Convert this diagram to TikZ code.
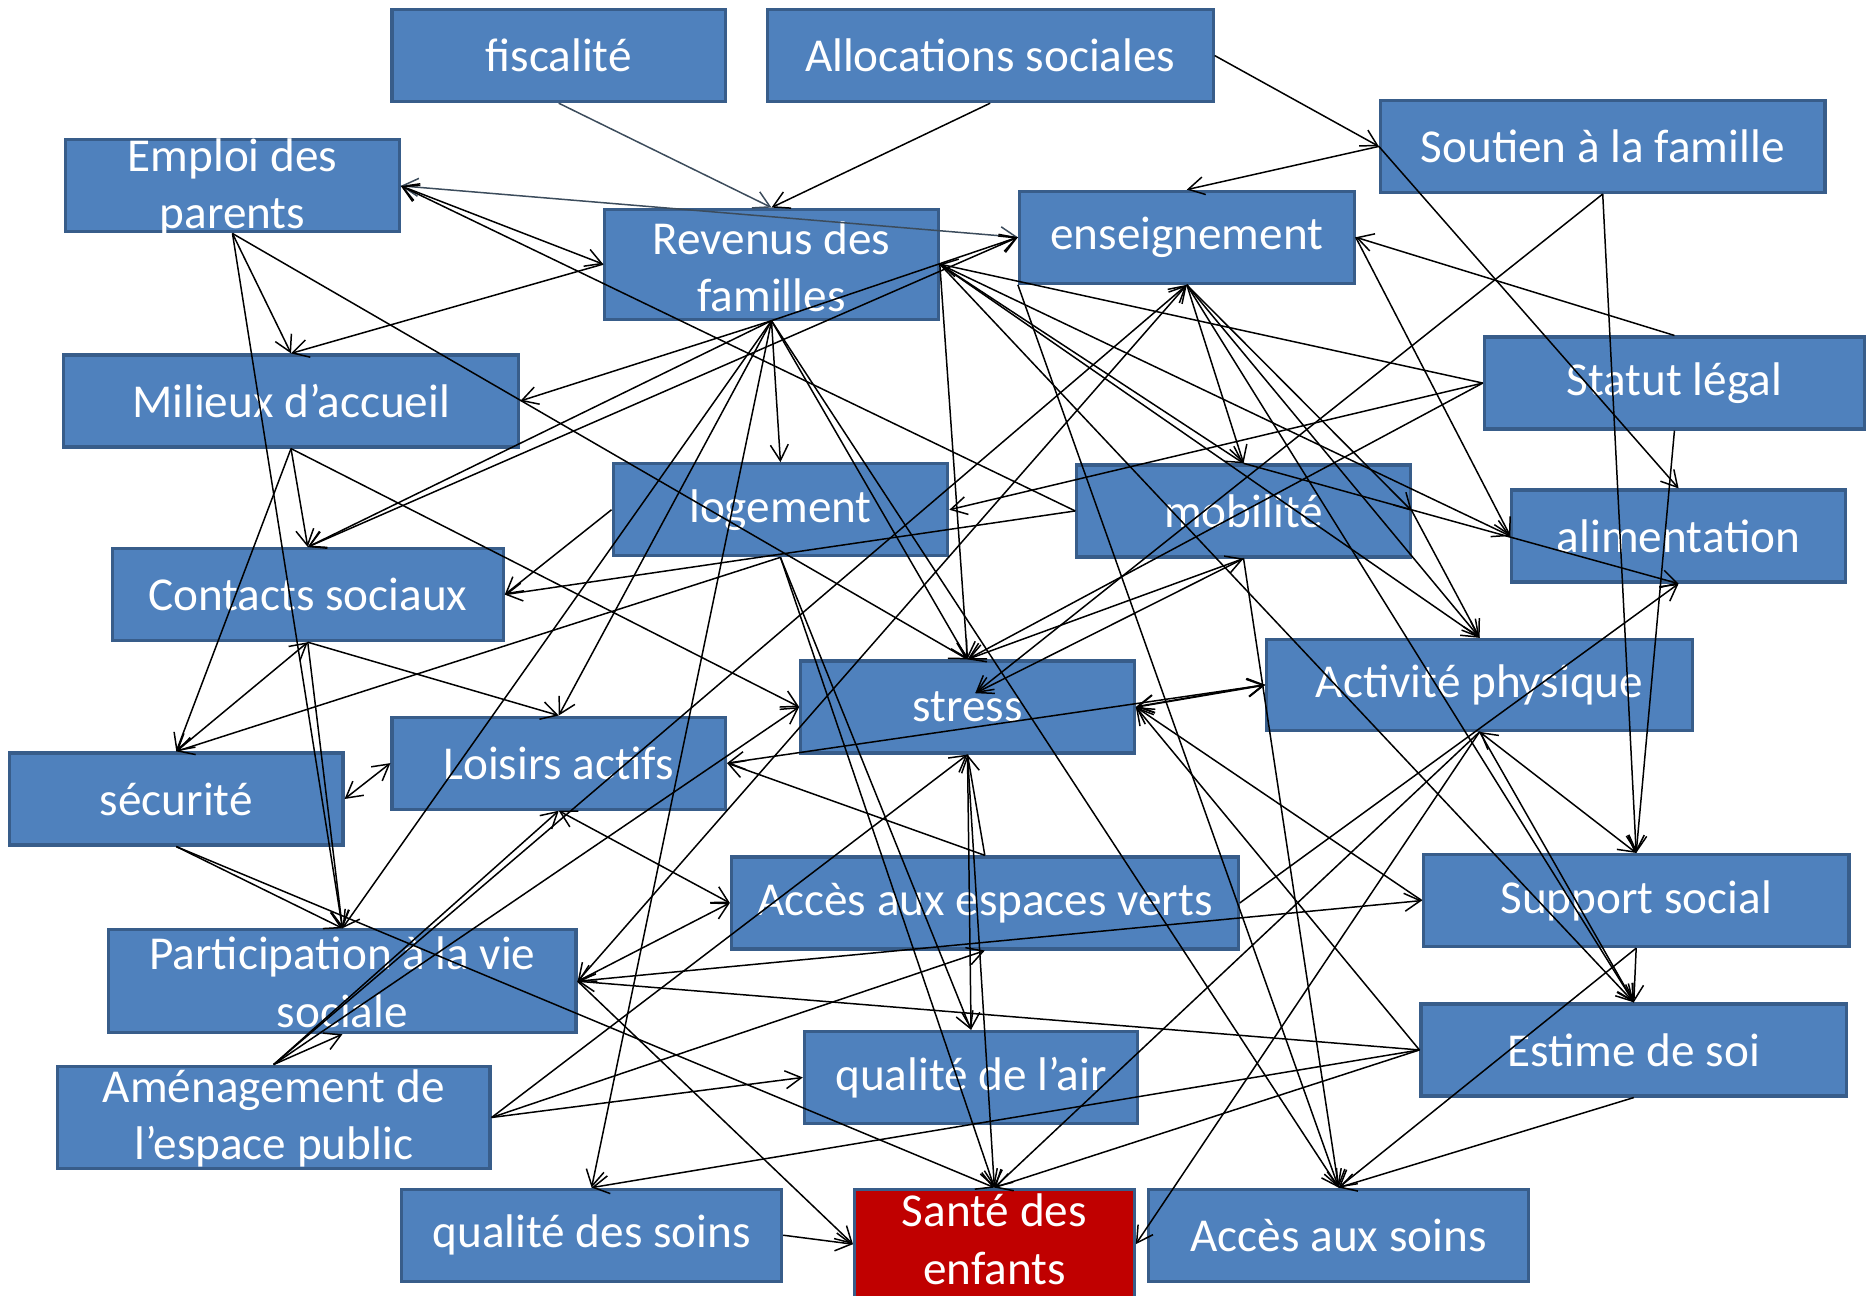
\documentclass[tikz,border=0pt]{standalone}
\usepackage{fontspec}
\setmainfont{Carlito}
\usetikzlibrary{arrows.meta}
\definecolor{bfill}{HTML}{4F81BD}
\definecolor{bbord}{HTML}{385D8A}
\definecolor{rfill}{HTML}{C00000}
\definecolor{gline}{HTML}{3C4C5C}
\tikzset{
  box/.style={draw=bbord, fill=bfill, line width=1.6pt, inner sep=0pt, rectangle},
  redbox/.style={box, fill=rfill},
  lbl/.style={text=white, align=center, inner sep=0pt, font=\fontsize{23.7pt}{28.8pt}\selectfont},
  ar/.style={-{Straight Barb[length=8pt,width=9pt]}, line width=0.75pt, black},
  dar/.style={{Straight Barb[length=8pt,width=9pt]}-{Straight Barb[length=8pt,width=9pt]}, line width=0.75pt, black},
  gar/.style={ar, draw=gline},
  gdar/.style={dar, draw=gline}
}
\begin{document}
\begin{tikzpicture}[x=0.6pt,y=-0.6pt]
\useasboundingbox (0,0) rectangle (1568,1084);
% boxes
\node[box, minimum width=279*0.6pt, minimum height=77*0.6pt] (fisc) at (467.5,46.5) {};
\node[box, minimum width=373*0.6pt, minimum height=77*0.6pt] (alloc) at (828.5,46.5) {};
\node[box, minimum width=372*0.6pt, minimum height=77*0.6pt] (soutien) at (1341,122.5) {};
\node[box, minimum width=279*0.6pt, minimum height=77*0.6pt] (emploi) at (194.5,155.5) {};
\node[box, minimum width=279*0.6pt, minimum height=92*0.6pt] (rev) at (645.5,221) {};
\node[box, minimum width=280*0.6pt, minimum height=77*0.6pt] (enseig) at (993,198.5) {};
\node[box, minimum width=381*0.6pt, minimum height=77*0.6pt] (milieux) at (243.5,335.5) {};
\node[box, minimum width=318*0.6pt, minimum height=77*0.6pt] (statut) at (1401,320.5) {};
\node[box, minimum width=280*0.6pt, minimum height=77*0.6pt] (logement) at (653,426.5) {};
\node[box, minimum width=279*0.6pt, minimum height=77*0.6pt] (mobilite) at (1040.5,427.5) {};
\node[box, minimum width=279*0.6pt, minimum height=77*0.6pt] (aliment) at (1404.5,448.5) {};
\node[box, minimum width=327*0.6pt, minimum height=77*0.6pt] (contacts) at (257.5,497.5) {};
\node[box, minimum width=356*0.6pt, minimum height=76*0.6pt] (activite) at (1238,573) {};
\node[box, minimum width=279*0.6pt, minimum height=77*0.6pt] (stress) at (809.5,591.5) {};
\node[box, minimum width=279*0.6pt, minimum height=77*0.6pt] (loisirs) at (467.5,638.5) {};
\node[box, minimum width=279*0.6pt, minimum height=77*0.6pt] (securite) at (147.5,668.5) {};
\node[box, minimum width=424*0.6pt, minimum height=77*0.6pt] (espaces) at (824,755.5) {};
\node[box, minimum width=356*0.6pt, minimum height=77*0.6pt] (support) at (1369,753.5) {};
\node[box, minimum width=391*0.6pt, minimum height=86*0.6pt] (particip) at (286.5,821) {};
\node[box, minimum width=356*0.6pt, minimum height=77*0.6pt] (estime) at (1367,878.5) {};
\node[box, minimum width=279*0.6pt, minimum height=77*0.6pt] (air) at (812.5,901.5) {};
\node[box, minimum width=362*0.6pt, minimum height=86*0.6pt] (amenag) at (229,935) {};
\node[box, minimum width=318*0.6pt, minimum height=77*0.6pt] (qsoins) at (495,1033.5) {};
\node[redbox, minimum width=234*0.6pt, minimum height=92*0.6pt] (sante) at (832,1041) {};
\node[box, minimum width=318*0.6pt, minimum height=77*0.6pt] (acces) at (1120,1033.5) {};
% labels
\node[lbl] (tfisc) at (fisc) {fiscalité};
\node[lbl] (talloc) at (alloc) {Allocations sociales};
\node[lbl] (tsoutien) at (soutien) {Soutien à la famille};
\node[lbl] (templ) at (194.5,157) {Emploi des\\parents};
\node[lbl] (trev) at (645.5,223) {Revenus des\\familles};
\node[lbl] (tens) at (enseig) {enseignement};
\node[lbl] (tmil) at (milieux) {Milieux d’accueil};
\node[lbl] (tstat) at (statut) {Statut légal};
\node[lbl] (tlog) at (logement) {logement};
\node[lbl] (tmob) at (mobilite) {mobilité};
\node[lbl] (tali) at (aliment) {alimentation};
\node[lbl] (tcon) at (contacts) {Contacts sociaux};
\node[lbl] (tact) at (activite) {Activité physique};
\node[lbl] (tstr) at (stress) {stress};
\node[lbl] (tlois) at (loisirs) {Loisirs actifs};
\node[lbl] (tsec) at (securite) {sécurité};
\node[lbl] (tesp) at (espaces) {Accès aux espaces verts};
\node[lbl] (tsup) at (support) {Support social};
\node[lbl] (tpart) at (286.5,822) {Participation à la vie\\sociale};
\node[lbl] (test) at (estime) {Estime de soi};
\node[lbl] (tair) at (air) {qualité de l’air};
\node[lbl] (tame) at (229,936) {Aménagement de\\l’espace public};
\node[lbl] (tqs) at (qsoins) {qualité des soins};
\node[lbl] (tsan) at (832,1037) {Santé des\\enfants};
\node[lbl] (tacc) at (acces) {Accès aux soins};
\coordinate (stressin) at (816,580);
% connectors
\draw[gar] (fisc.south) -- (rev.north);
\draw[ar] (alloc.south) -- (rev.north);
\draw[ar] (alloc.east) -- (soutien.west);
\draw[ar] (soutien.west) -- (enseig.north);
\draw[ar] (soutien.west) -- (aliment.north);
\draw[ar] (soutien.south) -- (support.north);
\draw[ar] (soutien.south) -- (stressin);
\draw[dar] (emploi.east) -- (rev.west);
\draw[gdar] (enseig.west) -- (emploi.east);
\draw[ar] (mobilite.west) -- (emploi.east);
\draw[ar] (emploi.south) -- (milieux.north);
\draw[ar] (emploi.south) -- (particip.north);
\draw[ar] (emploi.south) -- (stress.north);
\draw[ar] (rev.west) -- (milieux.north);
\draw[ar] (rev.south) -- (milieux.east);
\draw[ar] (rev.south) -- (contacts.north);
\draw[ar] (rev.south) -- (enseig.west);
\draw[dar] (contacts.north) -- (enseig.west);
\draw[ar] (rev.south) -- (loisirs.north);
\draw[ar] (rev.south) -- (particip.north);
\draw[ar] (rev.south) -- (qsoins.north);
\draw[ar] (rev.south) -- (logement.north);
\draw[ar] (rev.south) -- (stress.north);
\draw[ar] (rev.south) -- (acces.north);
\draw[ar] (statut.west) -- (rev.east);
\draw[ar] (rev.east) -- (aliment.west);
\draw[ar] (rev.east) -- (mobilite.north);
\draw[ar] (rev.east) -- (activite.north);
\draw[ar] (rev.east) -- (stress.north);
\draw[ar] (rev.east) -- (estime.north);
\draw[ar] (milieux.south) -- (contacts.north);
\draw[ar] (milieux.south) -- (securite.north);
\draw[ar] (milieux.south) -- (stress.west);
\draw[dar] (contacts.south) -- (securite.north);
\draw[ar] (contacts.south) -- (loisirs.north);
\draw[ar] (contacts.south) -- (particip.north);
\draw[ar] (logement.south) -- (securite.north);
\draw[ar] (logement.west) -- (contacts.east);
\draw[ar] (mobilite.west) -- (contacts.east);
\draw[ar] (statut.west) -- (logement.east);
\draw[ar] (logement.south) -- (sante.north);
\draw[ar] (logement.south) -- (air.north);
\draw[ar] (mobilite.south) -- (acces.north);
\draw[dar] (mobilite.south) -- (stress.north);
\draw[ar] (mobilite.south) -- (stressin);
\draw[ar] (enseig.south) -- (mobilite.north);
\draw[ar] (mobilite.north) -- (aliment.south);
\draw[ar] (enseig.east) -- (aliment.west);
\draw[ar] (statut.north) -- (enseig.east);
\draw[ar] (amenag.north) -- (enseig.south);
\draw[dar] (particip.east) -- (enseig.south);
\draw[ar] (enseig.south) -- (activite.north);
\draw[ar] (enseig.south) -- (estime.north);
\draw[ar] (statut.west) -- (stress.north);
\draw[ar] (enseig.south) -- (mobilite.east);
\draw[ar] (mobilite.east) -- (activite.north);
\draw[dar, line width=1pt] (stress.east) -- (activite.west);
\draw[dar] (loisirs.east) -- (activite.west);
\draw[ar] (support.west) -- (stress.east);
\draw[ar] (estime.west) -- (stress.east);
\draw[ar] (amenag.north) -- (stress.west);
\draw[ar] (amenag.north) -- (particip.south);
\draw[ar] (amenag.north) -- (loisirs.south);
\draw[ar] (amenag.east) -- (air.west);
\draw[ar] (amenag.east) -- (espaces.south);
\draw[ar] (amenag.east) -- (stress.south);
\draw[dar] (loisirs.west) -- (securite.east);
\draw[ar] (espaces.north) -- (loisirs.east);
\draw[dar] (loisirs.south) -- (espaces.west);
\draw[ar] (securite.south) -- (particip.north);
\draw[ar] (securite.south) -- (sante.north);
\draw[dar] (particip.east) -- (espaces.west);
\draw[ar] (particip.east) -- (support.west);
\draw[ar] (estime.west) -- (particip.east);
\draw[ar] (particip.east) -- (sante.west);
\draw[ar] (espaces.north) -- (stress.south);
\draw[ar] (espaces.east) -- (aliment.south);
\draw[dar] (support.north) -- (activite.south);
\draw[ar] (statut.south) -- (support.north);
\draw[ar] (support.south) -- (estime.north);
\draw[ar] (support.south) -- (acces.north);
\draw[ar] (activite.south) -- (estime.north);
\draw[ar] (estime.west) -- (sante.north);
\draw[ar] (estime.west) -- (qsoins.north);
\draw[ar] (estime.south) -- (acces.north);
\draw[ar] (activite.south) -- (sante.east);
\draw[ar] (activite.south) -- (sante.north);
\draw[ar] (stress.south) -- (sante.north);
\draw[ar] (stress.south) -- (air.north);
\draw[ar] (qsoins.east) -- (sante.west);
\draw[ar] (enseig.south west) -- (acces.north);
\end{tikzpicture}
\end{document}
